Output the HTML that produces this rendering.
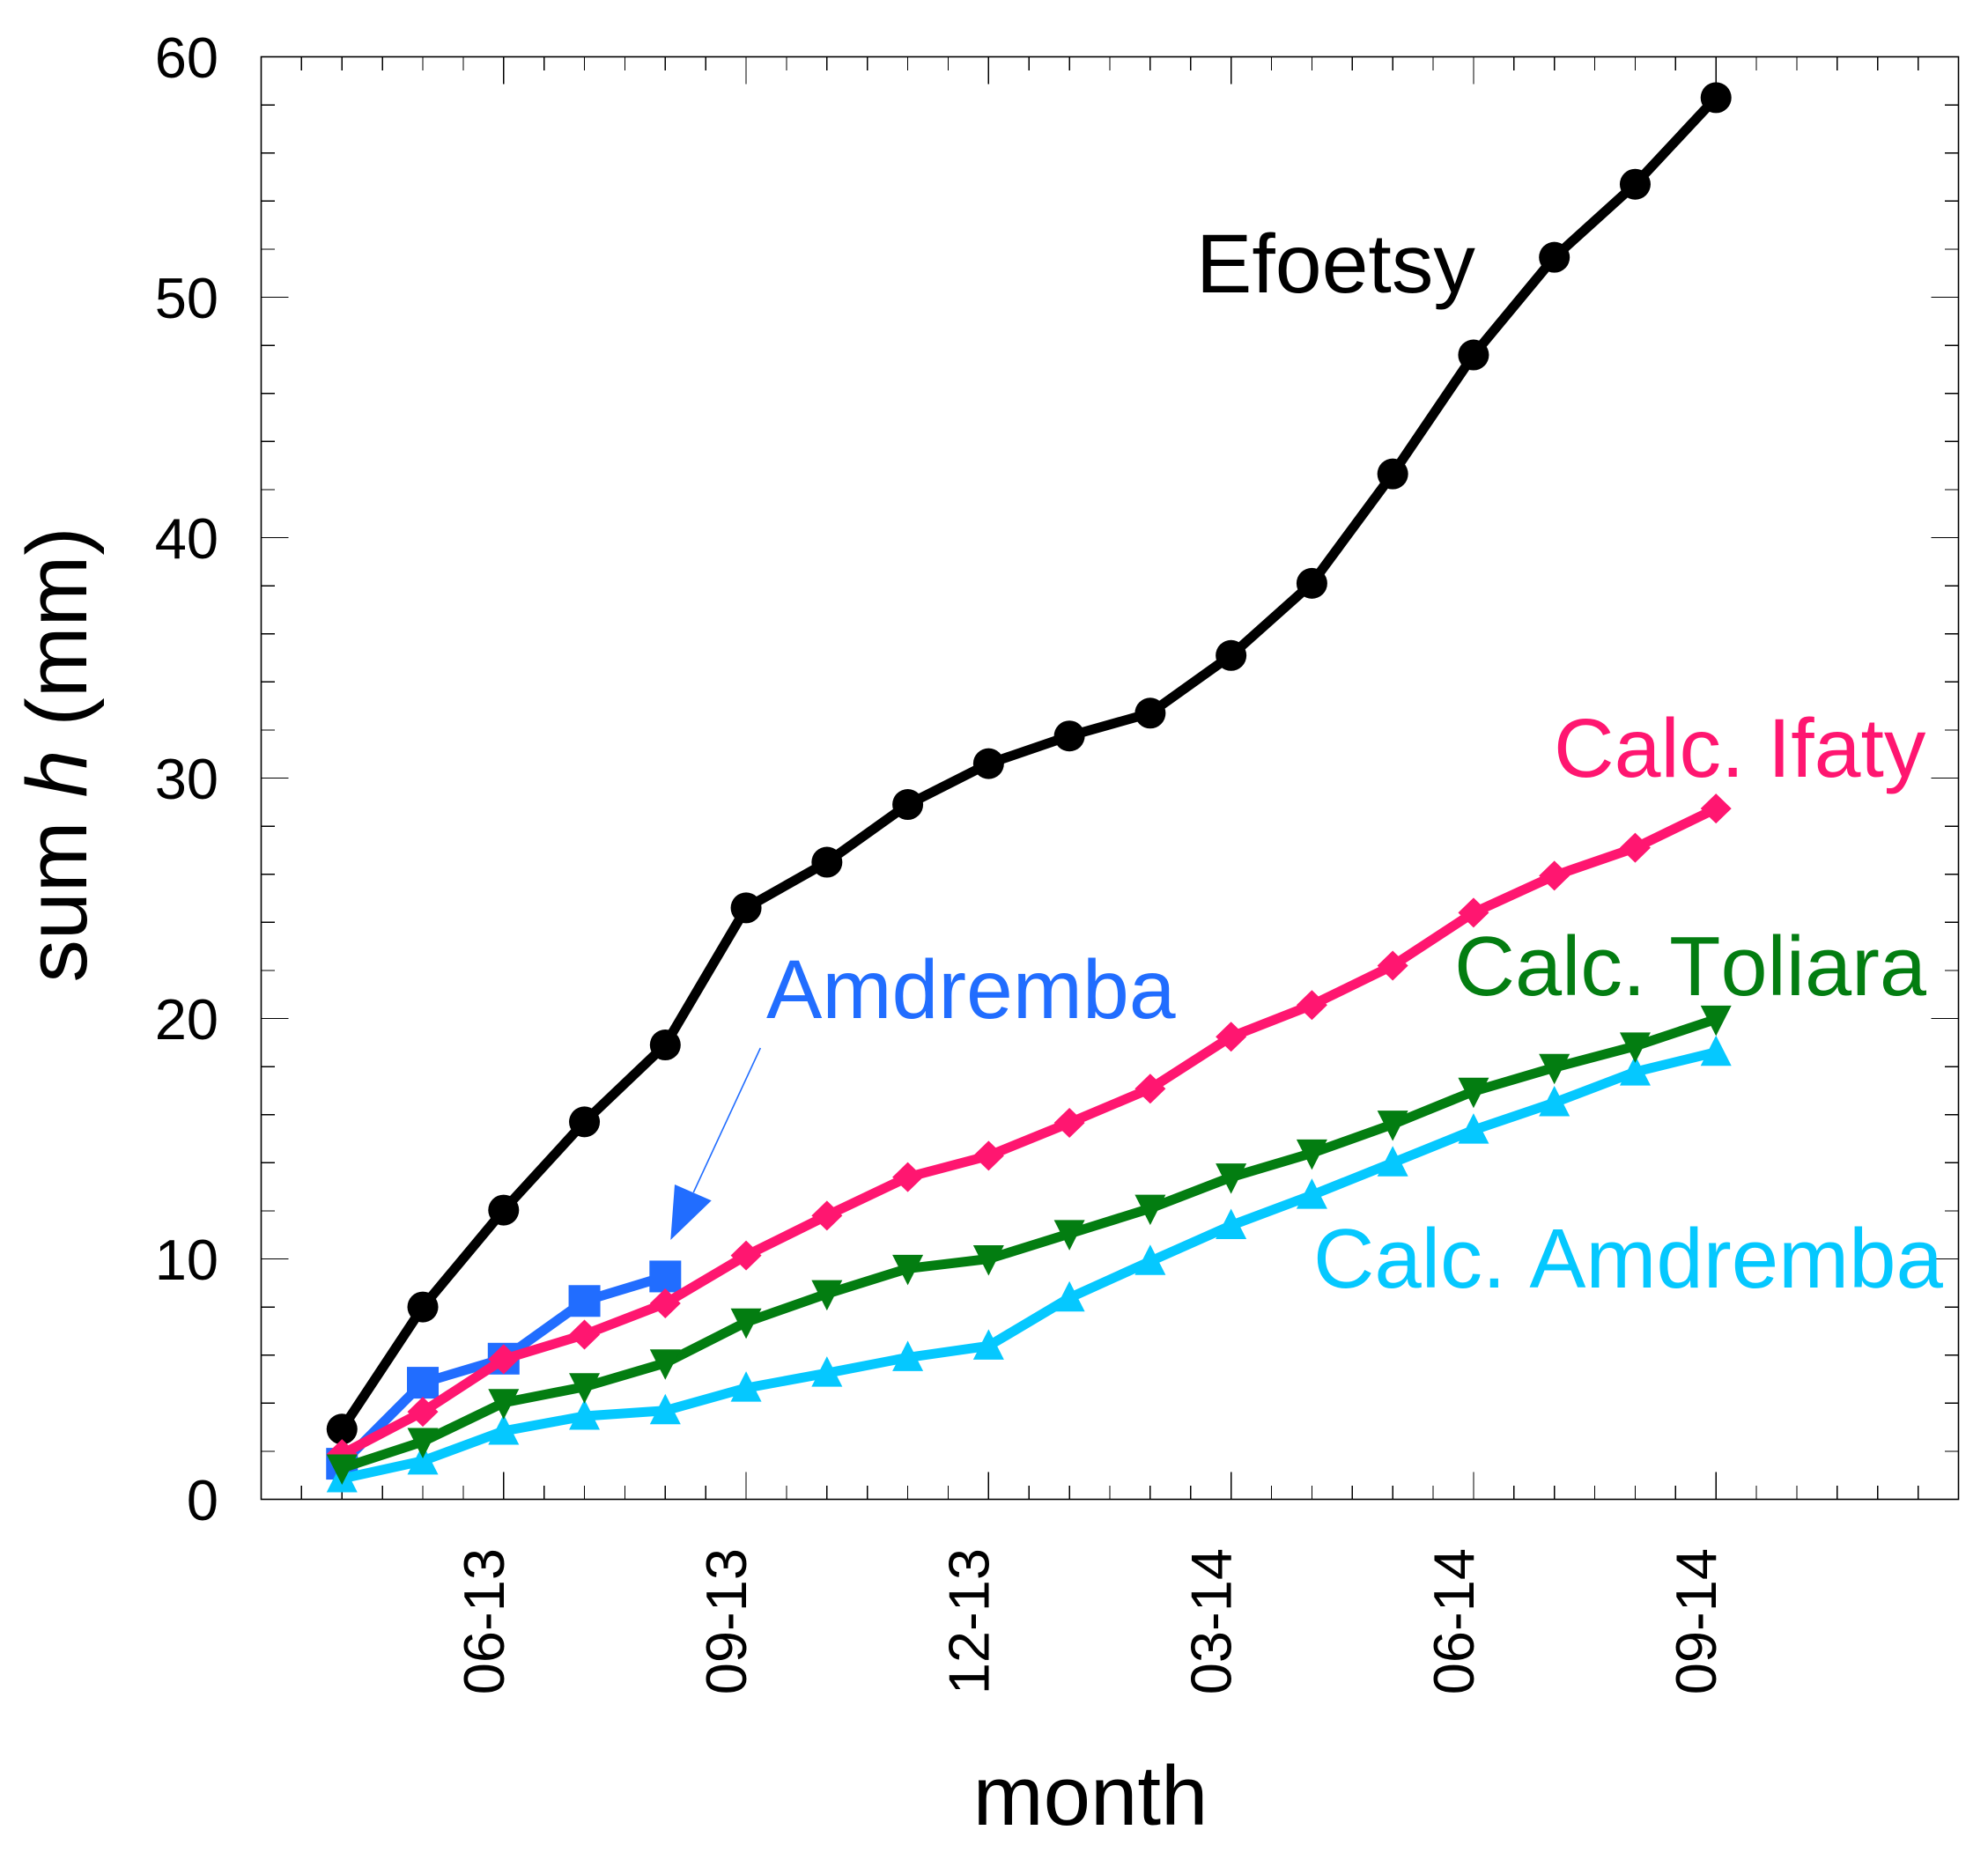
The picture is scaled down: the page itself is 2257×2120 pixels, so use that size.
<!DOCTYPE html>
<html>
<head>
<meta charset="utf-8">
<title>Cumulative sum h by month</title>
<style>
html,body{margin:0;padding:0;background:#fff;}
svg{display:block;font-family:"Liberation Sans",Arial,sans-serif;font-kerning:none;}
</style>
</head>
<body>
<svg id="chart" xmlns="http://www.w3.org/2000/svg" width="2257" height="2120" viewBox="0 0 2257 2120">
  <rect width="2257" height="2120" fill="#ffffff"/>
  <g id="ticks"></g>
  <rect x="296.5" y="64.5" width="1927" height="1638" fill="none" stroke="#000" stroke-width="1.6"/>
  <g id="tick-labels"></g>
  <text x="1238" y="2072" font-size="96" text-anchor="middle">month</text>
  <text transform="translate(98,857) rotate(-90)" font-size="97" text-anchor="middle">sum <tspan font-style="italic">h</tspan> (mm)</text>
  <g id="series"></g>
  <text x="1358" y="332" font-size="95" fill="#000000">Efoetsy</text>
  <text x="1764" y="882" font-size="95" fill="#ff1670">Calc. Ifaty</text>
  <text x="1651" y="1130" font-size="95.5" fill="#037d11">Calc. Toliara</text>
  <text x="1491" y="1462" font-size="96" fill="#05c8ff">Calc. Amdremba</text>
  <text x="870" y="1156" font-size="95" fill="#216dff">Amdremba</text>
  <line x1="863.3" y1="1190" x2="787.3" y2="1354" stroke="#216dff" stroke-width="1.6"/>
  <polygon points="766,1345 807.7,1363.3 761.3,1408" fill="#216dff"/>
</svg>
<script>
const monthIndex = [1,2,3,4,5,6,7,8,9,10,11,12,13,14,15,16,17,18];
const xTickMonths = [3,6,9,12,15,18];
const xTickLabels = ["06-13","09-13","12-13","03-14","06-14","09-14"];
const yTickValues = [0,10,20,30,40,50,60];
const efoetsyValues = [2.92,8.0,12.03,15.7,18.9,24.6,26.5,28.9,30.6,31.75,32.7,35.1,38.1,42.65,47.6,51.66,54.7,58.3];
const amdrembaValues = [1.48,4.85,5.85,8.25,9.27];
const calcAmdrembaValues = [0.86,1.6,2.84,3.46,3.69,4.63,5.25,5.9,6.38,8.38,9.9,11.39,12.65,14.0,15.36,16.5,17.78,18.6];
const calcIfatyValues = [1.88,3.64,5.83,6.85,8.15,10.14,11.8,13.4,14.29,15.66,17.08,19.24,20.56,22.2,24.4,25.94,27.1,28.73];
const calcToliaraValues = [1.3,2.4,4.02,4.68,5.67,7.37,8.55,9.6,10.0,11.05,12.1,13.4,14.4,15.6,16.97,17.96,18.85,19.97];

const NS = "http://www.w3.org/2000/svg";
const plot = {left:296.5, right:2223.5, top:64.5, bottom:1702.5, xMax:21, yMax:60};
function sx(m){ return plot.left + (plot.right - plot.left) * m / plot.xMax; }
function sy(v){ return plot.bottom - (plot.bottom - plot.top) * v / plot.yMax; }
function mk(tag, attrs, parent){
  const el = document.createElementNS(NS, tag);
  for (const k in attrs) el.setAttribute(k, attrs[k]);
  parent.appendChild(el);
  return el;
}

const ticksG = document.getElementById("ticks");
const labelsG = document.getElementById("tick-labels");

function tickLine(x1, y1, x2, y2, name){
  const t = mk("line", {x1:x1, y1:y1, x2:x2, y2:y2, stroke:"#000", "stroke-width":1.3, "shape-rendering":"crispEdges"}, ticksG);
  
  
}
for (let h = 1; h < plot.xMax * 2; h++) {
  const m = h / 2;
  const len = (h % 6 === 0) ? 31 : 15.5;
  const x = sx(m);
  tickLine(x, plot.bottom, x, plot.bottom - len, 'x-tick-bottom');
  tickLine(x, plot.top, x, plot.top + len, 'x-tick-top');
}
for (let v = 2; v < plot.yMax; v += 2) {
  const len = (v % 10 === 0) ? 31 : 15.5;
  const y = sy(v);
  tickLine(plot.left, y, plot.left + len, y, 'y-tick-left');
  tickLine(plot.right, y, plot.right - len, y, 'y-tick-right');
}

yTickValues.forEach(function(v){
  const t = mk("text", {x:248, y:sy(v) + 23.5, "font-size":65, "text-anchor":"end"}, labelsG);
  
  
  t.textContent = String(v);
});
xTickMonths.forEach(function(m, i){
  const t = mk("text", {transform:"translate(" + sx(m) + ",1758) rotate(-90)", "font-size":65, "text-anchor":"end"}, labelsG);
  
  
  t.textContent = xTickLabels[i];
});

function marker(kind, x, y, color, g){
  let el;
  if (kind === "circle") {
    el = mk("circle", {cx:x, cy:y, r:17.5, fill:color}, g);
  } else if (kind === "square") {
    el = mk("rect", {x:x - 18, y:y - 18, width:36, height:36, fill:color}, g);
  } else if (kind === "diamond") {
    el = mk("polygon", {points:(x-17.5)+","+y+" "+x+","+(y-17)+" "+(x+17.5)+","+y+" "+x+","+(y+17), fill:color}, g);
  } else if (kind === "down") {
    el = mk("polygon", {points:(x-17.5)+","+(y-15.5)+" "+(x+17.5)+","+(y-15.5)+" "+x+","+(y+19), fill:color}, g);
  } else {
    el = mk("polygon", {points:x+","+(y-19)+" "+(x+17.5)+","+(y+15.5)+" "+(x-17.5)+","+(y+15.5), fill:color}, g);
  }
  
  
}

function drawSeries(name, values, color, kind){
  const g = mk("g", {}, document.getElementById("series"));
  
  
  const pts = values.map(function(v, i){ return sx(monthIndex[i]) + "," + sy(v); }).join(" ");
  const line = mk("polyline", {points:pts, fill:"none", stroke:color, "stroke-width":11, "stroke-linejoin":"round"}, g);
  
  
  values.forEach(function(v, i){ marker(kind, sx(monthIndex[i]), sy(v), color, g); });
}
drawSeries("series-efoetsy", efoetsyValues, "#000000", "circle");
drawSeries("series-amdremba", amdrembaValues, "#216dff", "square");
drawSeries("series-calc-amdremba", calcAmdrembaValues, "#05c8ff", "up");
drawSeries("series-calc-ifaty", calcIfatyValues, "#ff1670", "diamond");
drawSeries("series-calc-toliara", calcToliaraValues, "#037d11", "down");
</script>
</body>
</html>
